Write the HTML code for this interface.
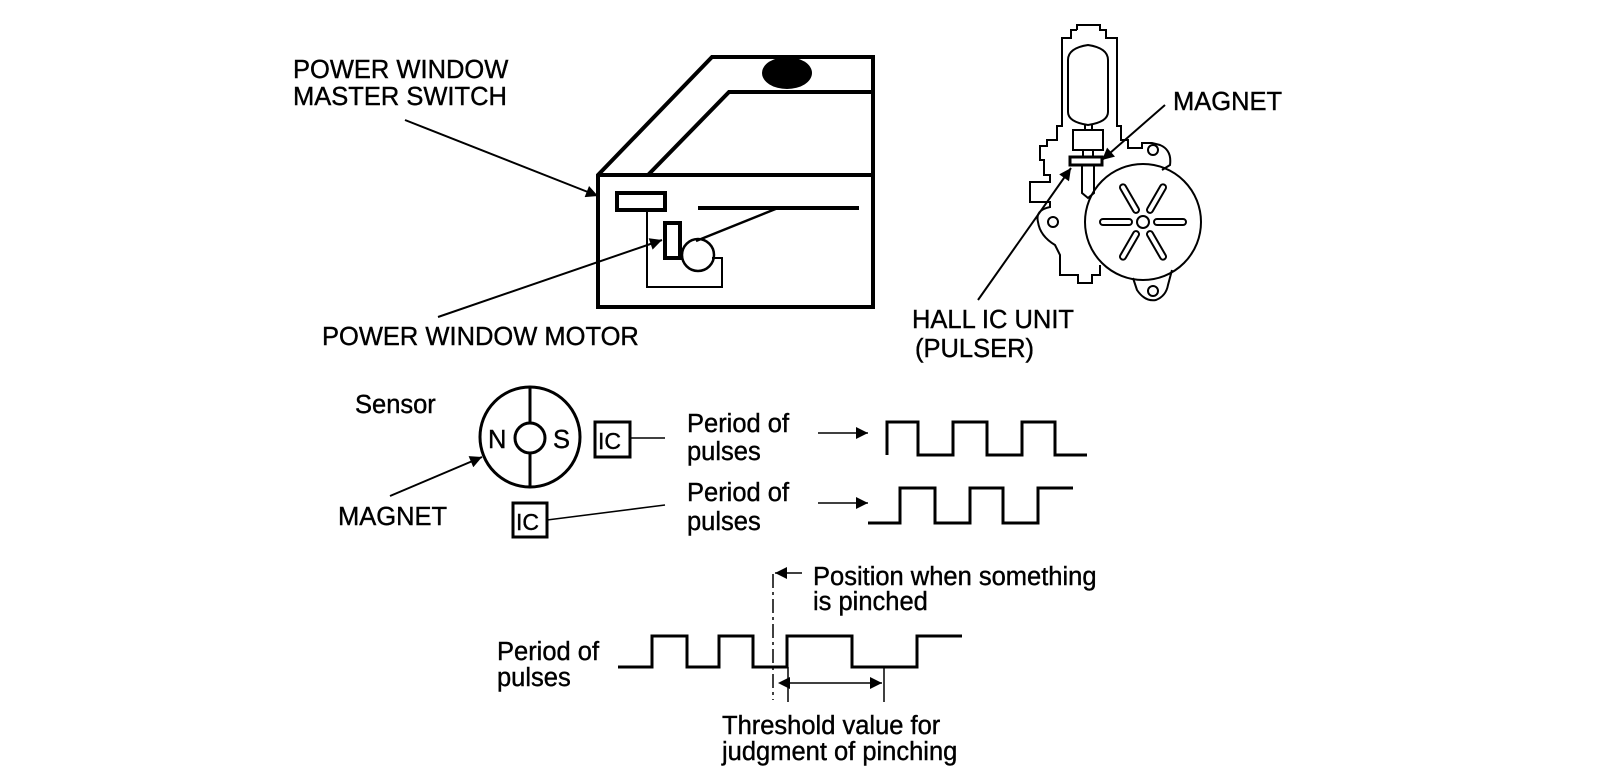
<!DOCTYPE html>
<html><head><meta charset="utf-8"><style>
html,body{margin:0;padding:0;background:#fff;}
svg{display:block;}
text{font-family:"Liberation Sans",Arial,sans-serif;font-size:25.5px;fill:#000;stroke:#000;stroke-width:0.4px;}
</style></head><body>
<svg width="1600" height="774" viewBox="0 0 1600 774" xmlns="http://www.w3.org/2000/svg">
<defs>
<marker id="ah" viewBox="0 0 10 10" refX="10" refY="5" markerWidth="16" markerHeight="12" markerUnits="userSpaceOnUse" orient="auto"><path d="M0,0 L10,5 L0,10 z" fill="#000"/></marker>
<marker id="ahs" viewBox="0 0 10 10" refX="0" refY="5" markerWidth="16" markerHeight="12" markerUnits="userSpaceOnUse" orient="auto-start-reverse"><path d="M0,0 L10,5 L0,10 z" fill="#000"/></marker>
</defs>
<g fill="none" stroke="#000">
<path d="M598,175 L712,57 H873 V307 H598 Z" stroke-width="4"/>
<path d="M598,175 H873" stroke-width="4"/>
<path d="M648,175 L729,92 H873" stroke-width="4"/>
<path d="M698,208 H859" stroke-width="4"/>
<rect x="617" y="193" width="48" height="17" stroke-width="4"/>
<rect x="665" y="223" width="15" height="35" stroke-width="4"/>
<circle cx="698" cy="255" r="16" stroke-width="2.5"/>
<path d="M647,210 V287 H722 V258 H712" stroke-width="2"/>
<path d="M696,241 L778,208" stroke-width="2.5"/>
<path d="M405,120 L598,196" stroke-width="2" marker-end="url(#ah)"/>
<path d="M438,317 L662,240" stroke-width="2" marker-end="url(#ah)"/>
</g>
<ellipse cx="787" cy="73" rx="25" ry="16" fill="#000"/>
<text x="293" y="78">POWER WINDOW</text>
<text x="293" y="105">MASTER SWITCH</text>
<text x="322" y="345">POWER WINDOW MOTOR</text>

<g fill="none" stroke="#000" stroke-width="2">
<path d="M1077,30 V25 H1100 V30 H1106 V38 H1117 V126 H1121 V140 H1128 V148 H1142 V143 H1152 L1160,145 Q1172,150 1170,165 L1162,170"/>
<path d="M1077,30 H1071 V38 H1062 V126 H1057 V140 H1047 V146 H1040 V160 H1044 V175 H1050 V182 H1030 V202 H1050 V207 Q1035,210 1038,222 Q1040,236 1055,245 L1060,255 V275 H1078 V283 H1092 V275 H1100 V265"/>
<circle cx="1143" cy="222" r="58"/>
<path d="M1133,278 L1137,290 Q1145,302 1156,300 Q1166,296 1168,285 L1172,270"/>
<circle cx="1153" cy="291" r="5"/>
<circle cx="1153" cy="150" r="5"/>
<circle cx="1053" cy="222" r="5"/>
<path d="M1068,60 Q1068,48 1088,45 Q1108,48 1108,60 V112 Q1108,122 1088,125 Q1068,122 1068,112 Z"/>
<path d="M1085,125 V130 M1092,125 V130"/>
<rect x="1073" y="130" width="30" height="20"/>
<path d="M1083,150 V157 M1093,150 V157"/>
<rect x="1070" y="157" width="32" height="8" stroke-width="3"/>
<path d="M1082,165 V193 L1088,198 L1094,193 V165"/>
<circle cx="1143" cy="222" r="6"/>
<g transform="translate(1143,222)">
<rect x="11" y="-3" width="32" height="6" rx="3"/>
<rect x="11" y="-3" width="32" height="6" rx="3" transform="rotate(60)"/>
<rect x="11" y="-3" width="32" height="6" rx="3" transform="rotate(120)"/>
<rect x="11" y="-3" width="32" height="6" rx="3" transform="rotate(180)"/>
<rect x="11" y="-3" width="32" height="6" rx="3" transform="rotate(240)"/>
<rect x="11" y="-3" width="32" height="6" rx="3" transform="rotate(300)"/>
</g>
<path d="M1165,105 L1102,160" marker-end="url(#ah)"/>
<path d="M978,300 L1071,168" marker-end="url(#ah)"/>
</g>
<text x="1173" y="110">MAGNET</text>
<text x="912" y="328">HALL IC UNIT</text>
<text x="915" y="357">(PULSER)</text>

<g fill="none" stroke="#000">
<circle cx="530" cy="437" r="50" stroke-width="3"/>
<circle cx="530" cy="438" r="15" stroke-width="3"/>
<path d="M530,387 V423 M530,453 V488" stroke-width="3"/>
<rect x="595" y="422" width="35" height="35" stroke-width="3"/>
<rect x="513" y="503" width="34" height="34" stroke-width="3"/>
<path d="M630,438 H665" stroke-width="1.5"/>
<path d="M547,520 L665,505" stroke-width="1.5"/>
<path d="M390,496 L482,457" stroke-width="2" marker-end="url(#ah)"/>
<path d="M818,433 H868" stroke-width="1.5" marker-end="url(#ah)"/>
<path d="M818,503 H868" stroke-width="1.5" marker-end="url(#ah)"/>
<path d="M887,455 V422 H918 V455 H953 V422 H987 V455 H1022 V422 H1055 V455 H1087" stroke-width="3"/>
<path d="M868,523 H900 V488 H935 V523 H970 V488 H1003 V523 H1038 V488 H1073" stroke-width="3"/>
</g>
<text x="355" y="413">Sensor</text>
<text x="488" y="448">N</text>
<text x="553" y="448">S</text>
<text x="598" y="449" style="font-size:23px">IC</text>
<text x="516" y="530" style="font-size:23px">IC</text>
<text x="338" y="525">MAGNET</text>
<text x="687" y="432">Period of</text>
<text x="687" y="460">pulses</text>
<text x="687" y="501">Period of</text>
<text x="687" y="530">pulses</text>

<g fill="none" stroke="#000">
<path d="M618,667 H652 V636 H687 V667 H719 V636 H753 V667 H787 V636 H852 V667 H917 V636 H962" stroke-width="3"/>
<path d="M773,574 V700" stroke-width="1.5" stroke-dasharray="14,4,3,4"/>
<path d="M802,573 H775" stroke-width="1.5" marker-end="url(#ah)"/>
<path d="M788,667 V702 M884,667 V702" stroke-width="1.5"/>
<path d="M790,683 H882" stroke-width="1.5" marker-start="url(#ahs)" marker-end="url(#ah)"/>
</g>
<text x="497" y="660">Period of</text>
<text x="497" y="686">pulses</text>
<text x="813" y="585">Position when something</text>
<text x="813" y="610">is pinched</text>
<text x="722" y="734">Threshold value for</text>
<text x="722" y="760">judgment of pinching</text>
</svg>
</body></html>
